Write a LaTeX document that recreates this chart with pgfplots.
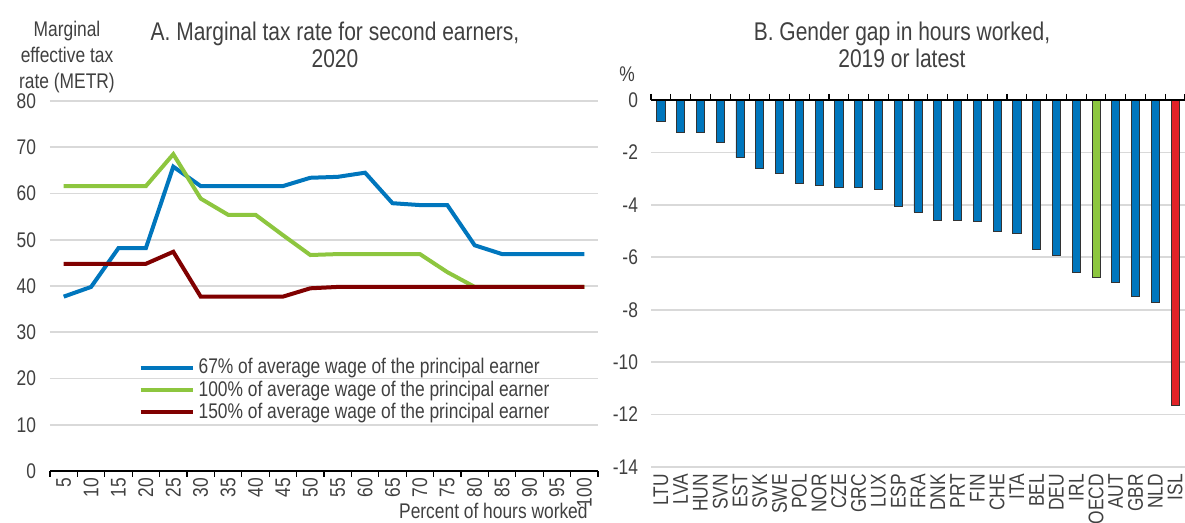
\documentclass[border=0pt]{standalone}
\usepackage{fontspec}
\setmainfont{Liberation Sans}[FakeStretch=0.82]
\usepackage{pgfplots}
\pgfplotsset{compat=1.18}
\definecolor{oblue}{RGB}{0,118,189}
\definecolor{ogreen}{RGB}{141,198,63}
\definecolor{odred}{RGB}{128,0,0}
\definecolor{ored}{RGB}{225,35,40}
\definecolor{gridc}{RGB}{217,217,217}
\definecolor{txt}{RGB}{64,64,64}
\newcommand{\tf}{\fontsize{10.6}{12.7}\selectfont}
\newcommand{\titf}{\fontsize{12.8}{13.5}\selectfont}
\begin{document}
\begin{tikzpicture}
\useasboundingbox (0,0) rectangle (592.5pt,-261.5pt);
\pgfplotsset{
  common/.style={
    scale only axis, anchor=south west,
    /pgf/number format/assume math mode=true,
    axis x line*=bottom, axis y line*=left,
    axis line style={draw=none, -},
    tick label style={font=\tf, text=txt},
    ymajorgrids, major grid style={gridc, line width=0.8pt},
    xtick style={draw=none}, ytick style={draw=none},
    major tick length=0pt,
    xticklabel style={rotate=90, anchor=east},
  },
  overlay/.style={
    scale only axis, anchor=south west,
    axis y line=none, ytick=\empty, yticklabels={},
    x axis line style={-, black, line width=0.8pt},
    xticklabels={},
    major tick length=3pt, tick align=outside,
    xtick style={black, line width=0.6pt},
  }
}
% Panel A
\begin{axis}[common,
  at={(25pt,-235.5pt)}, width=274pt, height=185pt,
  xmin=2.5, xmax=102.5, ymin=0, ymax=80,
  xtick={5,10,...,100},
  ytick={0,10,...,80},
  yticklabel style={xshift=-3.5pt},
  legend style={at={(0.15,0.327)}, anchor=north west, draw=none, fill=none,
    font=\tf, text=txt, cells={anchor=west}, row sep=-2pt},
  legend image code/.code={\draw[#1] (0pt,0pt) -- (26pt,0pt);},
]
\addplot[oblue, line width=2pt] coordinates {
(5,37.7) (10,39.8) (15,48.2) (20,48.2) (25,65.8) (30,61.6) (35,61.6) (40,61.6) (45,61.6) (50,63.4)
(55,63.6) (60,64.5) (65,57.9) (70,57.5) (75,57.5) (80,48.8) (85,46.9) (90,46.9) (95,46.9) (100,46.9)};
\addlegendentry{67\% of average wage of the principal earner}
\addplot[ogreen, line width=2pt] coordinates {
(5,61.6) (10,61.6) (15,61.6) (20,61.6) (25,68.5) (30,58.9) (35,55.4) (40,55.4) (45,51.0) (50,46.7)
(55,46.9) (60,46.9) (65,46.9) (70,46.9) (75,43.0) (80,39.8) (85,39.8) (90,39.8) (95,39.8) (100,39.8)};
\addlegendentry{100\% of average wage of the principal earner}
\addplot[odred, line width=2pt] coordinates {
(5,44.8) (10,44.8) (15,44.8) (20,44.8) (25,47.4) (30,37.7) (35,37.7) (40,37.7) (45,37.7) (50,39.5)
(55,39.8) (60,39.8) (65,39.8) (70,39.8) (75,39.8) (80,39.8) (85,39.8) (90,39.8) (95,39.8) (100,39.8)};
\addlegendentry{150\% of average wage of the principal earner}
\end{axis}
\begin{axis}[overlay,
  at={(25pt,-235.5pt)}, width=274pt, height=185pt,
  xmin=2.5, xmax=102.5, ymin=0, ymax=80,
  axis x line*=bottom,
  xtick={2.5,7.5,...,102.5},
]
\end{axis}
% Panel B
\begin{axis}[common,
  at={(325.5pt,-233.5pt)}, width=267pt, height=183.5pt,
  xmin=-0.5, xmax=26.5, ymin=-14, ymax=0,
  xtick={0,...,26},
  xticklabels={LTU,LVA,HUN,SVN,EST,SVK,SWE,POL,NOR,CZE,GRC,LUX,ESP,FRA,DNK,PRT,FIN,CHE,ITA,BEL,DEU,IRL,OECD,AUT,GBR,NLD,ISL},
  ytick={-14,-12,...,0},
  yticklabel style={xshift=-3pt},
]
\addplot[ybar, bar shift=0pt, bar width=4.1pt, fill=oblue, draw=black!80, line width=0.4pt] coordinates {
(0,-0.81) (1,-1.24) (2,-1.24) (3,-1.63) (4,-2.2) (5,-2.6) (6,-2.8) (7,-3.19) (8,-3.26) (9,-3.35)
(10,-3.35) (11,-3.4) (12,-4.06) (13,-4.28) (14,-4.59) (15,-4.59) (16,-4.62) (17,-5.0) (18,-5.1)
(19,-5.69) (20,-5.92) (21,-6.56) (23,-6.95) (24,-7.49) (25,-7.72)};
\addplot[ybar, bar shift=0pt, bar width=4.1pt, fill=ogreen, draw=black!80, line width=0.4pt] coordinates {(22,-6.77)};
\addplot[ybar, bar shift=0pt, bar width=4.1pt, fill=ored, draw=black!80, line width=0.4pt] coordinates {(26,-11.65)};
\end{axis}
\begin{axis}[overlay,
  at={(325.5pt,-233.5pt)}, width=267pt, height=183.5pt,
  xmin=-0.5, xmax=26.5, ymin=-14, ymax=0,
  axis x line*=top,
  xtick={-0.5,0.5,...,26.5},
]
\end{axis}
% Titles and axis notes
\node[align=center, font=\titf, text=txt] at (167.5pt,-22.5pt) {A. Marginal tax rate for second earners,\\2020};
\node[align=center, font=\titf, text=txt] at (451pt,-22.5pt) {B. Gender gap in hours worked,\\2019 or latest};
\node[align=center, font=\fontsize{10.6}{12.8}\selectfont, text=txt] at (33.5pt,-28.5pt) {Marginal\\effective tax\\rate (METR)};
\node[font=\tf, text=txt] at (313.5pt,-37pt) {\%};
\node[anchor=base east, inner sep=0pt, font=\tf, text=txt] at (294pt,-259.5pt) {Percent of hours worked};
\end{tikzpicture}
\end{document}
